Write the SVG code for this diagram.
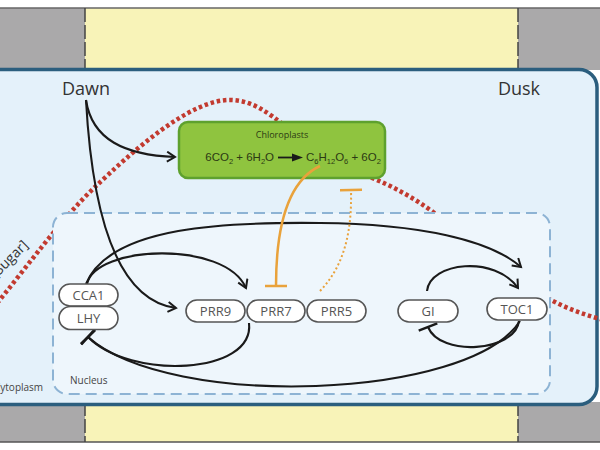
<svg xmlns="http://www.w3.org/2000/svg" width="600" height="450" viewBox="0 0 600 450">
<style>
text { font-family: "Open Sans", "Liberation Sans", sans-serif; }
.big { font-size: 18px; fill: #333; }
.small { font-size: 10px; fill: #444; }
.pill { fill: #fff; stroke: #555; stroke-width: 1.6; }
.pt { font-size: 13px; fill: #555; text-anchor: middle; }
.ln { fill: none; stroke: #1a1a1a; stroke-width: 2.1; }
.eq { font-family: "Liberation Sans", Arial, sans-serif; font-size: 11.5px; fill: #2c3a14; }
.sub { font-size: 7.5px; }
</style>
<defs>
<marker id="arr" markerWidth="12" markerHeight="12" refX="9.5" refY="6" orient="auto" markerUnits="userSpaceOnUse">
<path d="M1.5,1 L9.5,6 L1.5,11" fill="none" stroke="#1a1a1a" stroke-width="2"/>
</marker>
<marker id="bar" markerWidth="4" markerHeight="22" refX="2" refY="11" orient="auto" markerUnits="userSpaceOnUse">
<path d="M2,1 L2,21" stroke="#1a1a1a" stroke-width="2.5"/>
</marker>
<marker id="obar" markerWidth="4" markerHeight="24" refX="2" refY="12" orient="auto" markerUnits="userSpaceOnUse">
<path d="M2,1 L2,23" stroke="#e9a23b" stroke-width="2.5"/>
</marker>
</defs>

<!-- day/night bands -->
<g id="bands">
<rect x="0" y="8" width="600" height="62" fill="#aaa9aa"/>
<rect x="85" y="8" width="433" height="62" fill="#f8f3b8"/>
<rect x="0" y="402" width="600" height="40" fill="#aaa9aa"/>
<rect x="85" y="402" width="433" height="40" fill="#f8f3b8"/>
<line x1="0" y1="8" x2="600" y2="8" stroke="#666" stroke-width="1.5"/>
<line x1="0" y1="442" x2="600" y2="442" stroke="#555" stroke-width="1.5"/>
<g stroke="#444" stroke-width="1.5" stroke-dasharray="14 3">
<line x1="85" y1="8" x2="85" y2="70"/>
<line x1="518" y1="8" x2="518" y2="70"/>
<line x1="85" y1="402" x2="85" y2="442"/>
<line x1="518" y1="402" x2="518" y2="442"/>
</g>
</g>

<!-- cell -->
<g id="cell">
<rect x="-20" y="69.5" width="617" height="335" rx="18" fill="#e4f1fa" stroke="#2b5e7e" stroke-width="3.5"/>
<text x="-6" y="391" class="small">Cytoplasm</text>
</g>

<!-- sugar curve -->
<g id="sugar">
<path d="M -15 318 C 25 270, 60 220, 95 187 S 190 98, 232 100 S 290 145, 372 178 S 480 265, 557 303 C 575 312, 595 318, 615 323" fill="none" stroke="#c23a2f" stroke-width="4.5" stroke-dasharray="3.5 2.8"/>
<text transform="translate(29 246) rotate(-45)" text-anchor="end" font-size="14" fill="#333">[Sugar]</text>
</g>

<!-- nucleus -->
<g id="nucleus">
<rect x="53" y="213" width="497" height="181" rx="14" fill="#eef6fc" stroke="#8db3d4" stroke-width="2" stroke-dasharray="11 6"/>
<text x="70" y="384" class="small">Nucleus</text>
</g>

<!-- chloroplast -->
<g id="chloroplast">
<rect x="179" y="122" width="206" height="56" rx="9" fill="#8fc43f" stroke="#5ea12e" stroke-width="2.5"/>
<text x="282" y="138" font-size="9" text-anchor="middle" fill="#2c3a14">Chloroplasts</text>
<text x="274" y="161" class="eq" text-anchor="end">6CO<tspan class="sub" dy="3">2</tspan><tspan dy="-3"> + 6H</tspan><tspan class="sub" dy="3">2</tspan><tspan dy="-3">O</tspan></text>
<path d="M278 157.5 L295 157.5" stroke="#1a1a1a" stroke-width="1.8"/>
<polygon points="292,153.5 303,157.5 292,161.5" fill="#1a1a1a"/>
<text x="306" y="161" class="eq">C<tspan class="sub" dy="3">6</tspan><tspan dy="-3">H</tspan><tspan class="sub" dy="3">12</tspan><tspan dy="-3">O</tspan><tspan class="sub" dy="3">6</tspan><tspan dy="-3"> + 6O</tspan><tspan class="sub" dy="3">2</tspan></text>
</g>

<g id="dawn"><text x="86" y="95" class="big" text-anchor="middle">Dawn</text></g>
<g id="dusk"><text x="519" y="95" class="big" text-anchor="middle">Dusk</text></g>

<!-- connectors -->
<g id="connectors">
<path class="ln" d="M 86 100 C 92 140, 125 155, 175 157" marker-end="url(#arr)"/>
<path class="ln" d="M 86 100 C 92 210, 115 300, 176 308" marker-end="url(#arr)"/>
<path class="ln" d="M 87 284 C 95 245, 225 240, 246 288" marker-end="url(#arr)"/>
<path class="ln" d="M 86 284 C 110 225, 230 222, 320 223 C 420 224, 490 240, 521 267" marker-end="url(#arr)"/>
<path class="ln" d="M 427 291 C 430 262, 495 255, 518 288" marker-end="url(#arr)"/>
<path class="ln" d="M 519 321 C 515 352, 440 357, 428 327" marker-end="url(#bar)"/>
<path class="ln" d="M 520 321 C 470 400, 170 410, 88 337" marker-end="url(#bar)"/>
<path class="ln" d="M 249 323 C 255 375, 130 380, 88 337" marker-end="url(#bar)"/>
<path d="M 320 166 C 290 180, 276 220, 276 286" fill="none" stroke="#e9a23b" stroke-width="2.5" marker-end="url(#obar)"/>
<path d="M 320 291 C 345 265, 352 230, 351 190" fill="none" stroke="#e9a23b" stroke-width="2" stroke-dasharray="2 2.5" marker-end="url(#obar)"/>
</g>

<!-- gene nodes -->
<g id="cca1"><rect class="pill" x="59" y="284" width="59" height="22" rx="11"/><text class="pt" x="88.5" y="300">CCA1</text></g>
<g id="lhy"><rect class="pill" x="59" y="306.5" width="59" height="23" rx="11.5"/><text class="pt" x="88.5" y="323">LHY</text></g>
<g id="prr9"><rect class="pill" x="186" y="300" width="59" height="22" rx="11"/><text class="pt" x="215.5" y="316">PRR9</text></g>
<g id="prr7"><rect class="pill" x="247" y="300" width="58" height="22" rx="11"/><text class="pt" x="276" y="316">PRR7</text></g>
<g id="prr5"><rect class="pill" x="307" y="300" width="59" height="22" rx="11"/><text class="pt" x="336.5" y="316">PRR5</text></g>
<g id="gi"><rect class="pill" x="398" y="300" width="60" height="22" rx="11"/><text class="pt" x="428" y="316">GI</text></g>
<g id="toc1"><rect class="pill" x="487" y="298" width="60" height="22" rx="11"/><text class="pt" x="517" y="314">TOC1</text></g>
</svg>
